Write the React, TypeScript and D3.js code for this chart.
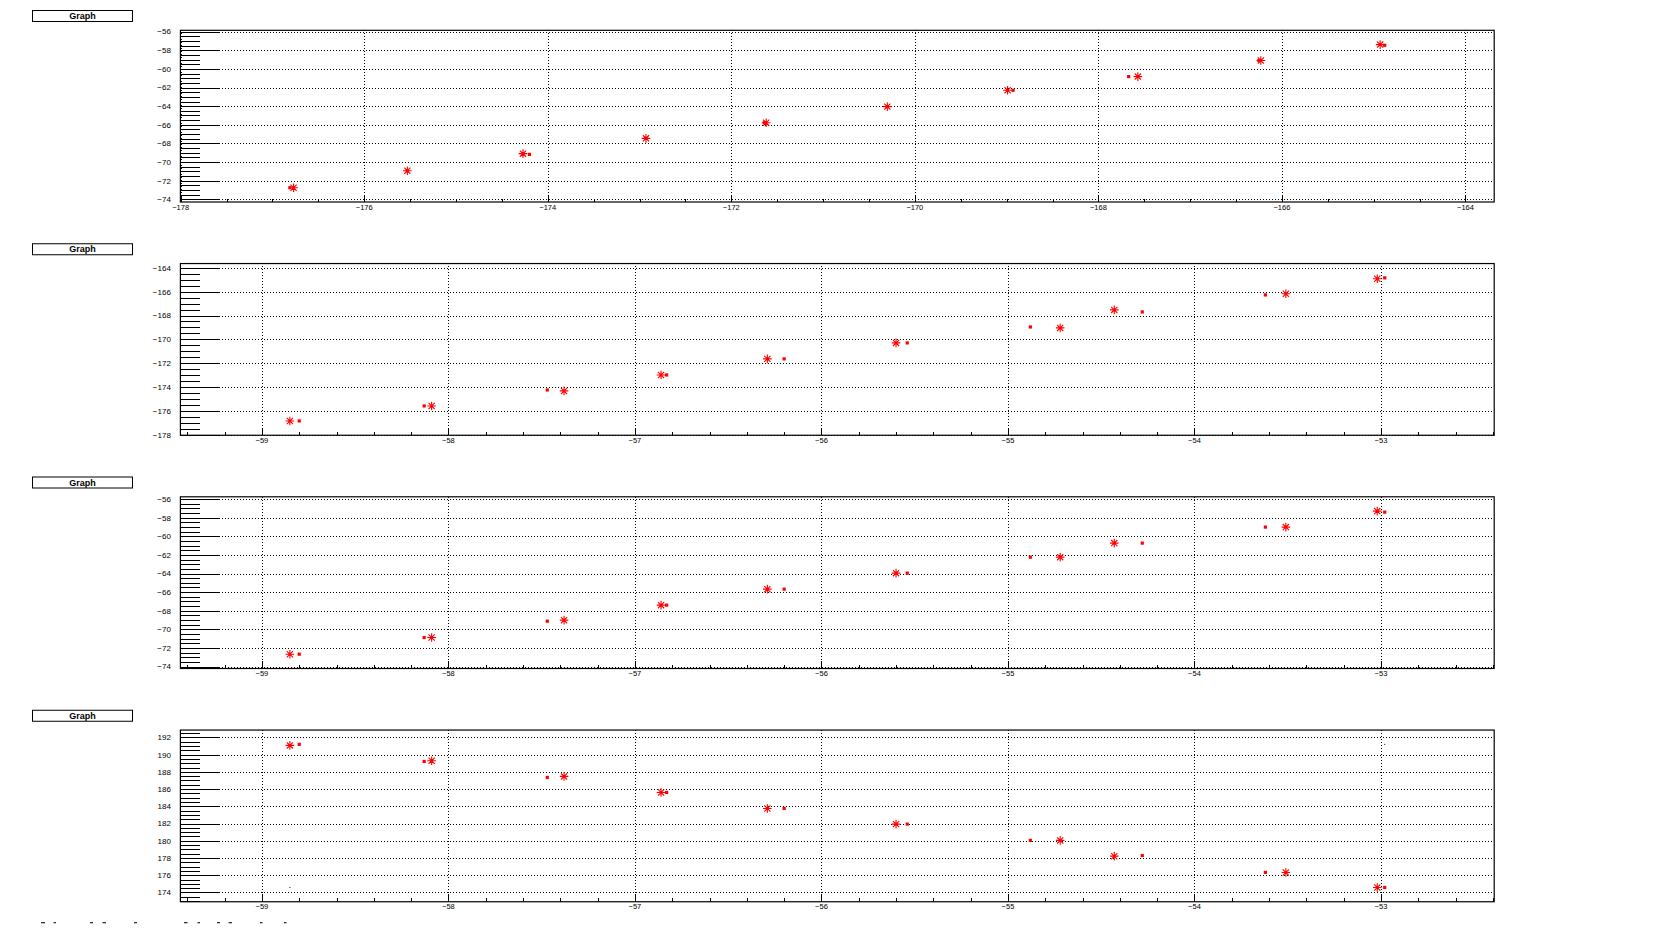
import React from "react";
import * as d3 from "d3";

// ---------- data ----------
// Panel 1
const p1StarX = [-176.77, -175.53, -174.27, -172.93, -171.62, -170.3, -168.99, -167.57, -166.23, -164.93];
const p1StarY = [-72.74, -70.92, -69.09, -67.45, -65.77, -64.05, -62.3, -60.83, -59.11, -57.4];
const p1SqX = [-176.81, -175.53, -174.2, -172.93, -171.64, -170.3, -168.93, -167.67, -166.25, -164.88];
const p1SqY = [-72.74, -70.92, -69.17, -67.45, -65.77, -64.05, -62.3, -60.83, -59.11, -57.47];

// Panels 2-4 share x values
const starX = [-58.85, -58.09, -57.38, -56.86, -56.29, -55.6, -54.72, -54.43, -53.51, -53.02];
const sqX = [-58.8, -58.13, -57.47, -56.83, -56.2, -55.54, -54.88, -54.28, -53.62, -52.98];

const p2StarY = [-176.85, -175.59, -174.33, -172.99, -171.64, -170.3, -169.04, -167.53, -166.18, -164.92];
const p2SqY = [-176.85, -175.59, -174.25, -172.99, -171.64, -170.3, -168.96, -167.7, -166.27, -164.84];

const p3StarY = [-72.67, -70.88, -69.01, -67.4, -65.68, -63.96, -62.24, -60.73, -59.01, -57.29];
const p3SqY = [-72.67, -70.88, -69.12, -67.4, -65.68, -63.96, -62.24, -60.73, -59.01, -57.4];

const p4StarY = [191.07, 189.28, 187.47, 185.61, 183.75, 181.93, 180.04, 178.21, 176.32, 174.58];
const p4SqY = [191.19, 189.21, 187.35, 185.61, 183.75, 181.93, 180.04, 178.29, 176.32, 174.58];
const p4DotX = [-58.85, -52.98];
const p4DotY = [174.58, 191.19];

const titles = ["Graph", "Graph", "Graph", "Graph"];
const xMajorSteps = [2, 1, 1, 1];
const xMinorSteps = [0.5, 0.2, 0.2, 0.2];
const yMajorStep = 2;
const yMinorStep = 0.5;

// footer remnants (x ranges) at the bottom-left
const footerMarks = [[41, 45], [53.6, 56], [90, 93], [102.5, 106], [134, 137], [184, 187.5], [197.5, 200], [217, 220], [228.6, 232], [260, 262.5], [284, 286.5]];

// ---------- layout ----------
const W = 1676;
const H = 933;
const padH = H / 4;
const frameL = 180.4;
const frameR = 1494.2;
const frameTopOff = 30.3;
const frameBotOff = 202;
const FONT = "'Liberation Sans', Arial, Helvetica, sans-serif";

type Series = { x: number[]; y: number[] };

const panels = [
  { star: { x: p1StarX, y: p1StarY }, sq: { x: p1SqX, y: p1SqY }, dots: null as Series | null },
  { star: { x: starX, y: p2StarY }, sq: { x: sqX, y: p2SqY }, dots: null as Series | null },
  { star: { x: starX, y: p3StarY }, sq: { x: sqX, y: p3SqY }, dots: null as Series | null },
  { star: { x: starX, y: p4StarY }, sq: { x: sqX, y: p4SqY }, dots: { x: p4DotX, y: p4DotY } },
];

function stepTicks(min: number, max: number, step: number): number[] {
  const s = Math.ceil(min / step - 1e-6);
  const e = Math.floor(max / step + 1e-6);
  return d3.range(s, e + 1).map((i) => +(i * step).toFixed(6));
}

const fmt = d3.format("");

function starPath(cx: number, cy: number): string {
  const r = 4.3;
  const d = 3.1;
  return `M${cx - r},${cy}L${cx + r},${cy}M${cx},${cy - r}L${cx},${cy + r}` +
    `M${cx - d},${cy - d}L${cx + d},${cy + d}M${cx - d},${cy + d}L${cx + d},${cy - d}`;
}

function Panel({ idx }: { idx: number }) {
  const p = panels[idx];
  const padTop = idx * padH;
  const top = padTop + frameTopOff;
  const bot = padTop + frameBotOff;

  const allX = [...p.star.x, ...p.sq.x];
  const allY = [...p.star.y, ...p.sq.y];
  const [x0, x1] = d3.extent(allX) as [number, number];
  const [y0, y1] = d3.extent(allY) as [number, number];
  const dx = x1 - x0;
  const dy = y1 - y0;
  const xs = d3.scaleLinear().domain([x0 - 0.1 * dx, x1 + 0.1 * dx]).range([frameL, frameR]);
  const ys = d3.scaleLinear().domain([y0 - 0.1 * dy, y1 + 0.1 * dy]).range([bot, top]);

  const [xd0, xd1] = xs.domain();
  const [yd0, yd1] = ys.domain();
  const xMaj = stepTicks(xd0, xd1, xMajorSteps[idx]);
  const xMin = stepTicks(xd0, xd1, xMinorSteps[idx]);
  const yMaj = stepTicks(yd0, yd1, yMajorStep);
  const yMin = stepTicks(yd0, yd1, yMinorStep);

  const yTickMaj = 39;
  const yTickMin = 19.5;
  const xTickMaj = 7.5;
  const xTickMin = 3.5;

  return (
    <g>
      {/* title box */}
      <rect x={32.5} y={padTop + 10.5} width={100} height={11} fill="#fff" stroke="#000" strokeWidth={1} />
      <text x={82.5} y={padTop + 19} fontFamily={FONT} fontSize={9} fontWeight="bold" textAnchor="middle" fill="#000">
        {titles[idx]}
      </text>

      {/* grid */}
      <g stroke="#000" strokeWidth={1} strokeDasharray="1,2" shapeRendering="crispEdges">
        {yMaj.map((v) => (
          <line key={"gy" + v} x1={frameL} x2={frameR} y1={Math.round(ys(v)) + 0.5} y2={Math.round(ys(v)) + 0.5} />
        ))}
        {xMaj.map((v) => (
          <line key={"gx" + v} x1={Math.round(xs(v)) + 0.5} x2={Math.round(xs(v)) + 0.5} y1={bot} y2={top} />
        ))}
      </g>

      {/* ticks */}
      <g stroke="#000" strokeWidth={1} shapeRendering="crispEdges">
        {yMin.map((v) => (
          <line key={"ym" + v} x1={frameL} x2={frameL + yTickMin} y1={Math.round(ys(v)) + 0.5} y2={Math.round(ys(v)) + 0.5} />
        ))}
        {yMaj.map((v) => (
          <line key={"yM" + v} x1={frameL} x2={frameL + yTickMaj} y1={Math.round(ys(v)) + 0.5} y2={Math.round(ys(v)) + 0.5} />
        ))}
        {xMin.map((v) => (
          <line key={"xm" + v} x1={Math.round(xs(v)) + 0.5} x2={Math.round(xs(v)) + 0.5} y1={bot} y2={bot - xTickMin} />
        ))}
        {xMaj.map((v) => (
          <line key={"xM" + v} x1={Math.round(xs(v)) + 0.5} x2={Math.round(xs(v)) + 0.5} y1={bot} y2={bot - xTickMaj} />
        ))}
      </g>

      {/* frame */}
      <rect x={frameL} y={top} width={frameR - frameL} height={bot - top} fill="none" stroke="#000" strokeWidth={1.2} />

      {/* labels */}
      <g fontFamily={FONT} fill="#000">
        {yMaj.map((v) => (
          <text key={"yl" + v} x={frameL - 9.5} y={ys(v) + 2.9} fontSize={8} textAnchor="end">
            {fmt(v)}
          </text>
        ))}
        {xMaj.map((v) => (
          <text key={"xl" + v} x={xs(v)} y={bot + 7.5} fontSize={7.5} textAnchor="middle">
            {fmt(v)}
          </text>
        ))}
      </g>

      {/* markers */}
      <g stroke="#ff0000" strokeWidth={1.1} fill="none">
        {p.star.x.map((xv, i) => (
          <path key={"s" + i} d={starPath(xs(xv), ys(p.star.y[i]))} />
        ))}
      </g>
      <g fill="#ff0000">
        {p.sq.x.map((xv, i) => (
          <rect key={"q" + i} x={xs(xv) - 1.6} y={ys(p.sq.y[i]) - 1.6} width={3.2} height={3.2} />
        ))}
      </g>
      {p.dots && (
        <g fill="#000">
          {p.dots.x.map((xv, i) => (
            <rect key={"d" + i} x={xs(xv) - 0.5} y={ys(p.dots!.y[i]) - 0.5} width={1} height={1} />
          ))}
        </g>
      )}
    </g>
  );
}

export default function App() {
  return (
    <svg
      width={W}
      height={H}
      style={{ position: "absolute", left: 0, top: 0, background: "#fff" }}
      xmlns="http://www.w3.org/2000/svg"
    >
      <rect x={0} y={0} width={W} height={H} fill="#fff" />
      {panels.map((_, i) => (
        <Panel key={i} idx={i} />
      ))}
      <g fill="#333">
        {footerMarks.map(([a, b], i) => (
          <rect key={"f" + i} x={a} y={922} width={b - a} height={1.3} />
        ))}
      </g>
    </svg>
  );
}
